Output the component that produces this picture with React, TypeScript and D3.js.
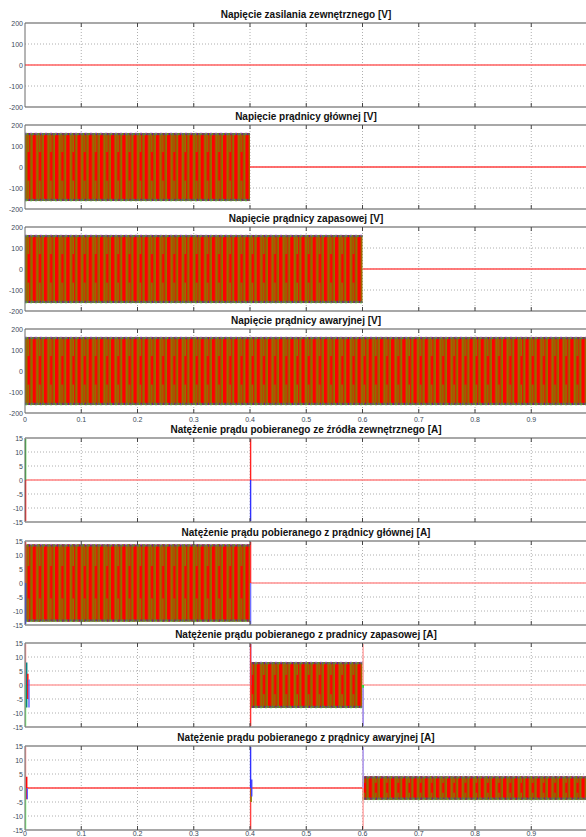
import * as d3 from "d3";

const W = 586;
const H = 837;

const titles = [
  "Napięcie zasilania zewnętrznego [V]",
  "Napięcie prądnicy głównej [V]",
  "Napięcie prądnicy zapasowej [V]",
  "Napięcie prądnicy awaryjnej [V]",
  "Natężenie prądu pobieranego ze źródła zewnętrznego [A]",
  "Natężenie prądu pobieranego z prądnicy głównej [A]",
  "Natężenie prądu pobieranego z pradnicy zapasowej [A]",
  "Natężenie prądu pobieranego z prądnicy awaryjnej [A]",
];
const panelTops = [23, 125, 227, 329, 438, 541, 643, 746];
const yMax = [200, 200, 200, 200, 15, 15, 15, 15];
const voltTicks = [-200, -100, 0, 100, 200];
const currTicks = [-15, -10, -5, 0, 5, 10, 15];
const xTicks = [0, 0.1, 0.2, 0.3, 0.4, 0.5, 0.6, 0.7, 0.8, 0.9];
const xLabelPanels = [3, 7];

// three-phase waveform envelopes: panel, start [s], end [s], amplitude
const wavePanel = [1, 2, 3, 5, 6, 7];
const waveStart = [0, 0, 0, 0, 0.4, 0.6];
const waveEnd = [0.4, 0.6, 1, 0.4, 0.6, 1];
const waveAmp = [162, 162, 162, 13.8, 8.2, 4.2];

// zero-level traces: panel, start, end, colour
const flatPanel = [0, 1, 2, 4, 5, 6, 6, 7];
const flatStart = [0, 0.4, 0.6, 0, 0.4, 0, 0.6, 0];
const flatEnd = [1, 1, 1, 1, 1, 0.4, 1, 0.6];
const flatColor = ["#ff6060", "#ff4040", "#ff5050", "#ff8080", "#ff9090", "#ffa0a0", "#ffa0a0", "#ff4040"];

// switching transients: panel, time, from, to, colour
const spikePanel = [4, 4, 4, 4, 5, 5, 5, 5, 6, 6, 6, 6, 6, 6, 6, 6, 6, 6, 7, 7, 7, 7, 7, 7, 7, 7, 7, 7];
const spikeT = [0, 0, 0.4, 0.4, 0, 0, 0.4, 0.4, 0, 0, 0.002, 0.004, 0.006, 0.4, 0.4, 0.6, 0.6, 0.6, 0, 0, 0.002, 0.003, 0.4, 0.4, 0.401, 0.402, 0.6, 0.6];
const spikeFrom = [15, 0, 15, 0, 15, 0, 15, 0, 15, 0, 8, 4, 2, 15, 15, 15, 0, 0, 15, 0, 4, 0, 15, 0, 0, 3, 15, 15];
const spikeTo = [0, -15, 0, -15, 0, -15, 0, -15, 0, -15, -8, -5, -8, 0, -15, -15, -15, -1, 0, -15, -4, -4, 0, -15, -5, -3, -15, 0];
const spikeColor = [
  "#40c040", "#ff2020", "#ff2020", "#3030ff",
  "#ff4040", "#4040ff", "#ff3030", "#7070ff",
  "#ffa0a0", "#80ff80", "#008080", "#ff0000", "#6060ff", "#5050ff", "#ff3030", "#ffa0a0", "#9090ff", "#00ff00",
  "#ffa0a0", "#80ff80", "#ff0000", "#6060ff", "#3030ff", "#ff4040", "#808000", "#4040ff", "#ffa0a0", "#a0a0ff",
];

const PH = 84;
const L = 25;

export default function App() {
  const x = d3.scaleLinear().domain([0, 1]).range([L, L + 562.5]);

  return (
    <div style={{ position: "absolute", left: 0, top: 0, width: W, height: H, background: "#fff" }}>
      <svg width={W} height={H} style={{ display: "block" }} fontFamily="Liberation Sans, Arial, sans-serif">
        <defs>
          <pattern id="wave" patternUnits="userSpaceOnUse" width={11.2} height={10}>
            <rect x={0} y={0} width={11.2} height={10} fill="#ff0000" />
            <rect x={2.4} y={0} width={1.7} height={10} fill="#987000" />
            <rect x={4.1} y={0} width={0.9} height={10} fill="#5f9a00" />
            <rect x={7.8} y={0} width={1.5} height={10} fill="#8a6c00" />
            <rect x={9.3} y={0} width={0.7} height={10} fill="#68a000" />
          </pattern>
          <pattern id="band2" patternUnits="userSpaceOnUse" width={22.4} height={10}>
            <rect x={5.2} y={0} width={1.6} height={10} fill="#957000" />
            <rect x={16.4} y={0} width={1.8} height={10} fill="#8e6e00" />
          </pattern>
          <pattern id="edge" patternUnits="userSpaceOnUse" width={5.6} height={10}>
            <rect x={0} y={0} width={5.6} height={10} fill="#8a7000" />
            <rect x={0.5} y={0} width={1.4} height={10} fill="#6a1a9a" />
            <rect x={3.2} y={0} width={1} height={10} fill="#3050e0" />
            <rect x={4.4} y={0} width={1} height={10} fill="#60a000" />
          </pattern>
        </defs>
        {titles.map((title, i) => {
          const top = panelTops[i];
          const m = yMax[i];
          const y = d3.scaleLinear().domain([-m, m]).range([top + PH, top]);
          const ticks = m > 100 ? voltTicks : currTicks;
          return (
            <g key={i}>
              <text x={306} y={top - 5} textAnchor="middle" fontSize={10} fontWeight="bold" fill="#111">
                {title}
              </text>
              {/* grid */}
              {ticks
                .filter((t) => Math.abs(t) !== m && t !== 0)
                .map((t) => (
                  <line key={"h" + t} x1={L} x2={W} y1={y(t)} y2={y(t)} stroke="#9a9a9a" strokeDasharray="1,2" strokeWidth={0.8} />
                ))}
              <line x1={L} x2={W} y1={y(0)} y2={y(0)} stroke="#bbb" strokeDasharray="1,2" strokeWidth={0.8} />
              {xTicks.slice(1).map((t) => (
                <line key={"v" + t} x1={x(t)} x2={x(t)} y1={top} y2={top + PH} stroke="#9a9a9a" strokeDasharray="1,2" strokeWidth={0.8} />
              ))}
              {/* zero-level traces */}
              {flatPanel.map((p, k) =>
                p === i ? (
                  <line key={"f" + k} x1={x(flatStart[k])} x2={x(flatEnd[k])} y1={y(0)} y2={y(0)} stroke={flatColor[k]} strokeWidth={1.3} />
                ) : null
              )}
              {/* waveform envelopes */}
              {wavePanel.map((p, k) => {
                if (p !== i) return null;
                const x0 = x(waveStart[k]);
                const x1 = Math.min(x(waveEnd[k]), W);
                const y0 = y(waveAmp[k]);
                const y1 = y(-waveAmp[k]);
                const h = y1 - y0;
                const w = x1 - x0;
                return (
                  <g key={"w" + k}>
                    <rect x={x0} y={y0} width={w} height={h} fill="url(#wave)" />
                    <rect x={x0} y={y0} width={w} height={h * 0.28} fill="url(#band2)" />
                    <rect x={x0} y={y1 - h * 0.3} width={w} height={h * 0.3} fill="url(#band2)" />
                    <rect x={x0} y={y0} width={w} height={2.2} fill="url(#edge)" />
                    <rect x={x0} y={y1 - 2.2} width={w} height={2.2} fill="url(#edge)" />
                    <line x1={x0} x2={x1} y1={y0} y2={y0} stroke="#c080ff" strokeWidth={0.6} strokeDasharray="2,3" />
                    <line x1={x0} x2={x1} y1={y1} y2={y1} stroke="#60e060" strokeWidth={0.6} strokeDasharray="2,3" />
                  </g>
                );
              })}
              {/* transients */}
              {spikePanel.map((p, k) =>
                p === i ? (
                  <line key={"s" + k} x1={x(spikeT[k]) + 0.6} x2={x(spikeT[k]) + 0.6} y1={y(spikeFrom[k])} y2={y(spikeTo[k])} stroke={spikeColor[k]} strokeWidth={1.4} />
                ) : null
              )}
              {/* frame */}
              <line x1={L} x2={W} y1={top} y2={top} stroke="#a8a8a8" strokeWidth={2} />
              <line x1={L} x2={W} y1={top + PH} y2={top + PH} stroke="#a8a8a8" strokeWidth={2} />
              <line x1={L} x2={L} y1={top} y2={top + PH} stroke="#6a6a6a" strokeWidth={1} />
              {xTicks.slice(1).map((t) => (
                <g key={"t" + t}>
                  <line x1={x(t)} x2={x(t)} y1={top} y2={top + 4} stroke="#444" strokeWidth={1} />
                  <line x1={x(t)} x2={x(t)} y1={top + PH - 4} y2={top + PH} stroke="#444" strokeWidth={1} />
                </g>
              ))}
              {ticks.map((t) => (
                <text key={"yl" + t} x={L - 2} y={y(t) + 2.5} textAnchor="end" fontSize={7} fill="#3a4a5a">
                  {t}
                </text>
              ))}
              {xLabelPanels.includes(i) &&
                xTicks.map((t) => (
                  <text key={"xl" + t} x={x(t)} y={Math.min(top + PH + 9, H - 1)} textAnchor="middle" fontSize={7} fill="#3a4a5a">
                    {t}
                  </text>
                ))}
            </g>
          );
        })}
      </svg>
    </div>
  );
}
